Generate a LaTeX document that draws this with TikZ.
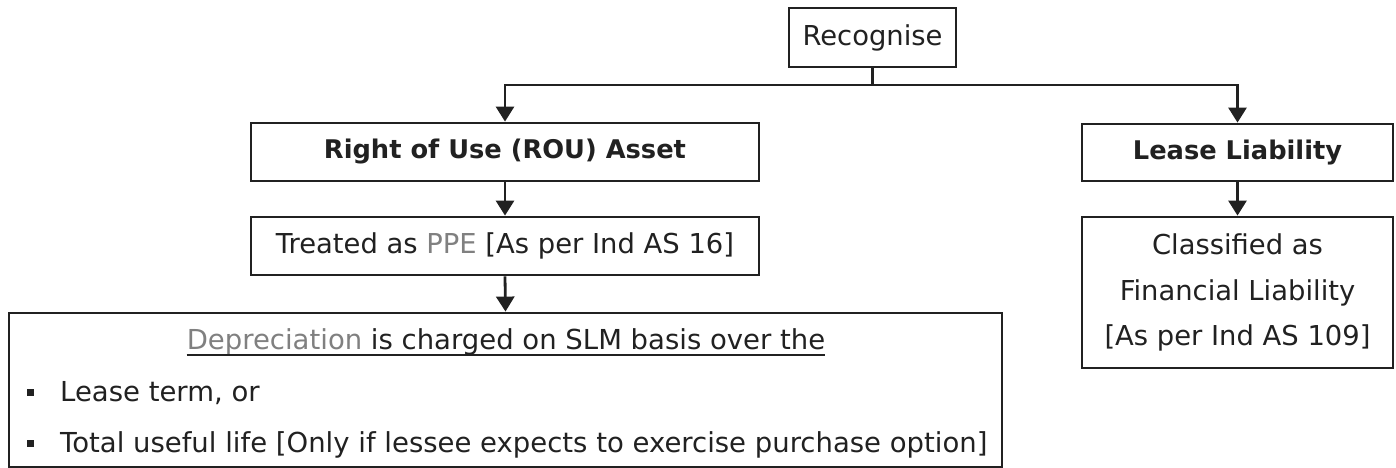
\documentclass[tikz,border=0pt]{standalone}
\usepackage{fontspec}
\setmainfont{DejaVu Sans}
\usetikzlibrary{arrows.meta}
\definecolor{txtgray}{gray}{0.5}
\definecolor{ink}{gray}{0.13}
\tikzset{
  box/.style={draw=ink, line width=2.8bp, inner sep=0pt, align=center, text=ink,
    font=\fontsize{27.5}{46}\selectfont},
  bbox/.style={box, font=\fontsize{25.8}{30}\selectfont\bfseries},
  conn/.style={draw=ink, line width=2.8bp},
  arr/.style={conn, -{Triangle[width=18bp,length=15bp]}},
  txt/.style={inner sep=0pt, text=ink, font=\fontsize{27.6}{30}\selectfont},
  uline/.style={draw=ink, line width=2.2bp},
  bullet/.style={fill=ink},
}
\begin{document}
\begin{tikzpicture}[x=1bp,y=-1bp]
\useasboundingbox (0,0) rectangle (1396,468);
\node[box, minimum width=167bp, minimum height=59bp] (rec) at (872.5,37.5) {Recognise};
\node[bbox, minimum width=508bp, minimum height=58bp] (rou) at (505,152) {Right of Use (ROU) Asset};
\node[bbox, minimum width=311bp, minimum height=57bp] (ll) at (1237.5,152.5) {Lease Liability};
\node[box, minimum width=508bp, minimum height=58bp] (ppe) at (505,246) {Treated as \textcolor{txtgray}{PPE} [As per Ind AS 16]};
\node[box, minimum width=311bp, minimum height=151bp] (cls) at (1237.5,292.5) {Classified as\\ Financial Liability\\ {[}As per Ind AS 109{]}};
\node[box, minimum width=993bp, minimum height=154bp] (dep) at (505.5,390) {};
\node[txt, anchor=base] (d1) at (506,349) {\textcolor{txtgray}{Depreciation} is charged on SLM basis over the};
\draw[uline] ([yshift=-6bp]d1.base west) -- ([yshift=-6bp]d1.base east);
\node[txt, anchor=base west] (d2) at (60,401) {Lease term, or};
\node[txt, anchor=base west] (d3) at (60,452) {Total useful life [Only if lessee expects to exercise purchase option]};
\fill[bullet] (26.5,388.5) rectangle ++(7,7);
\fill[bullet] (26.5,439.5) rectangle ++(7,7);
\coordinate (j) at (872.5,85);
\draw[conn] (rec.south) -- (j);
\draw[arr] (j) -| (rou.north);
\draw[arr] (j) -| (ll.north);
\draw[arr] (rou.south) -- (ppe.north);
\draw[arr] (ll.south) -- (cls.north);
\draw[arr] (ppe.south) -- (dep.north);
\end{tikzpicture}
\end{document}
